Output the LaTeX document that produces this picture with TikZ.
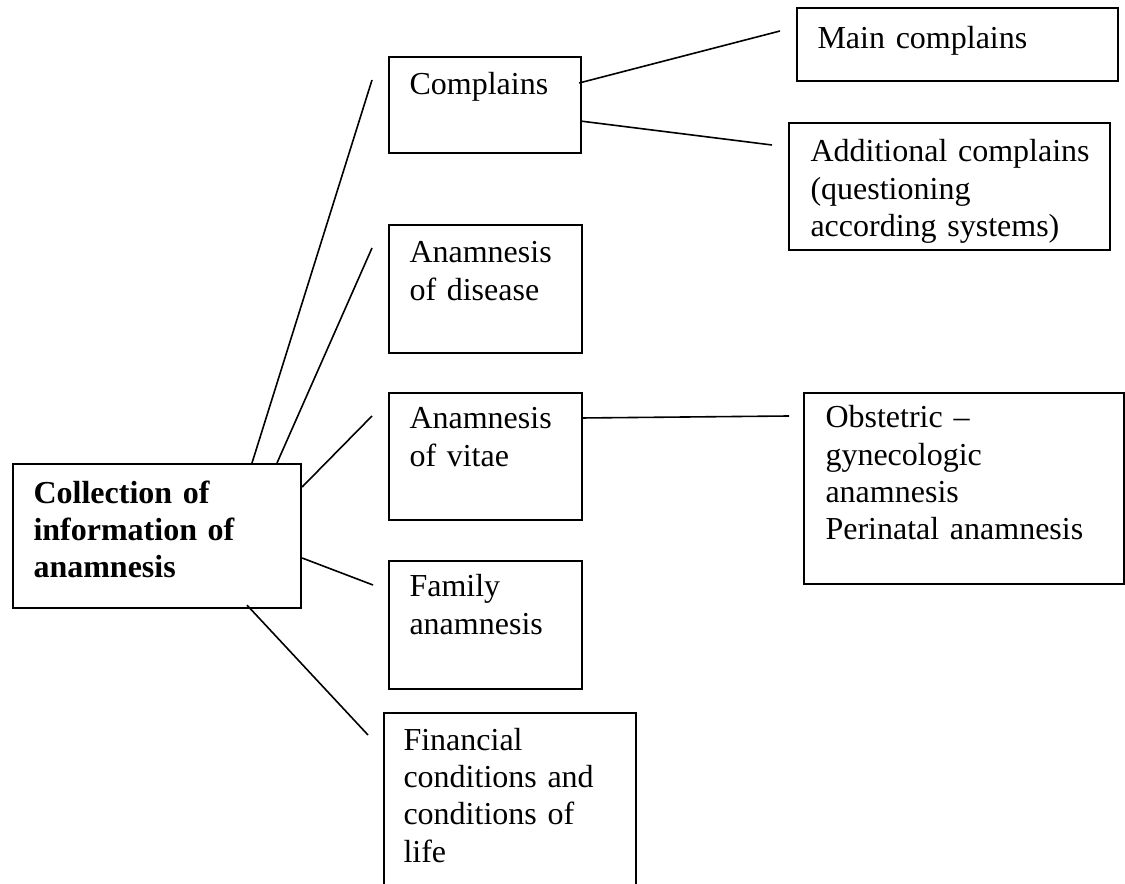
\documentclass[tikz,border=0pt]{standalone}
\usepackage{fontspec}
\setmainfont{Liberation Serif}
\usepackage{tikz}
\usetikzlibrary{calc}

\tikzset{
  box/.style 2 args={draw, line width=0.8pt, rectangle, anchor=north west, inner sep=0pt,
    minimum width=#1*0.375pt, minimum height=#2*0.375pt},
  lbl/.style={anchor=base west, inner sep=0pt, align=left, text width=8cm,
    font=\fontsize{12}{14}\selectfont},
  link/.style={line width=0.6pt},
}

\begin{document}
\begin{tikzpicture}[x=0.375pt,y=0.375pt,yscale=-1,xscale=1]
\clip (0,0) rectangle (1125,884);

%Boxes
\node[box={288}{144}] (col) at (12,463) {};
\node[box={192}{96}] (cmp) at (388,56) {};
\node[box={193}{128}] (dis) at (388,224) {};
\node[box={193}{127}] (vit) at (388,392) {};
\node[box={193}{128}] (fam) at (388,560) {};
\node[box={252}{220}] (fin) at (383,712) {};
\node[box={321}{73}] (mainc) at (796,7) {};
\node[box={321}{127}] (addc) at (788,122) {};
\node[box={320}{191}] (obs) at (803,392) {};

% Text Node
\node[lbl, font=\fontsize{12}{14}\selectfont\bfseries] (colt) at ($(col.north west)+(21,40)$) {Collection of\\information of\\anamnesis};
% Text Node
\node[lbl] (cmpt) at ($(cmp.north west)+(21,39)$) {Complains};
% Text Node
\node[lbl] (dist) at ($(dis.north west)+(21,39)$) {Anamnesis\\of disease};
% Text Node
\node[lbl] (vitt) at ($(vit.north west)+(21,37)$) {Anamnesis\\of vitae};
% Text Node
\node[lbl] (famt) at ($(fam.north west)+(21,37)$) {Family\\anamnesis};
% Text Node
\node[lbl] (fint) at ($(fin.north west)+(20,38)$) {Financial\\conditions and\\conditions of\\life};
% Text Node
\node[lbl] (mainct) at ($(mainc.north west)+(21,42)$) {Main complains};
% Text Node
\node[lbl] (addct) at ($(addc.north west)+(22,40)$) {Additional complains\\(questioning\\according systems)};
% Text Node
\node[lbl] (obst) at ($(obs.north west)+(22,36)$) {Obstetric --\\gynecologic\\anamnesis\\Perinatal anamnesis};

%Free ends
\coordinate (e1) at (372,80);
\coordinate (e2) at (372,248);
\coordinate (e3) at (372,416);
\coordinate (e4) at (373,585);
\coordinate (e5) at (368,735);
\coordinate (e6) at (780,31);
\coordinate (e7) at (772,145);
\coordinate (e8) at (789,416);

%Straight Lines
\draw[link] ($(col.north west)+(240,0)$) -- (e1);
\draw[link] ($(col.north west)+(265,0)$) -- (e2);
\draw[link] ($(col.north east)+(0,24)$) -- (e3);
\draw[link] ($(col.north east)+(0,95)$) -- (e4);
\draw[link] ($(col.south west)+(235,-4)$) -- (e5);
\draw[link] ($(cmp.north east)+(-3,27)$) -- (e6);
\draw[link] ($(cmp.north east)+(-2,65)$) -- (e7);
\draw[link] ($(vit.north east)+(-2,26)$) -- (e8);

\end{tikzpicture}
\end{document}
